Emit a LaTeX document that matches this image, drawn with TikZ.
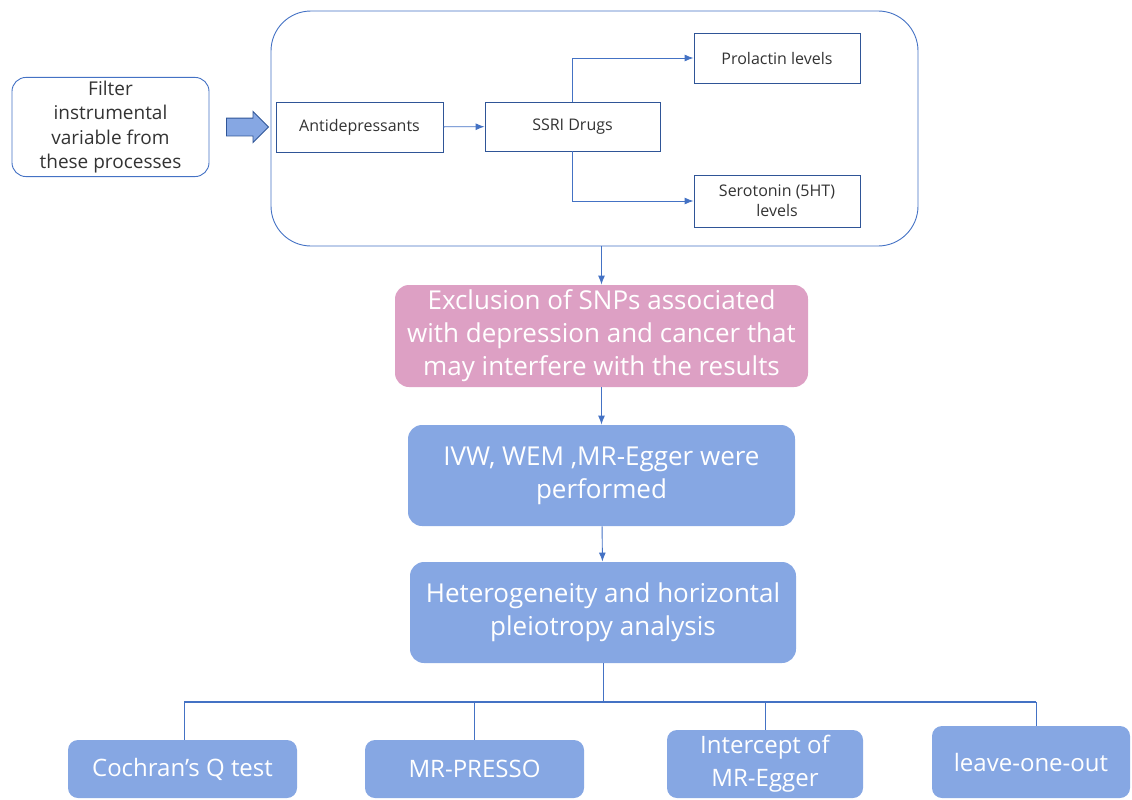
\documentclass[tikz,border=0pt]{standalone}
\usepackage{fontspec}
\setmainfont{Open Sans}
\usepackage{tikz}
\usetikzlibrary{shapes.arrows,arrows.meta,positioning,calc}

\definecolor{lineblue}{RGB}{68,114,196}
\definecolor{edgeblue}{RGB}{47,85,151}
\definecolor{fillblue}{RGB}{134,167,227}
\definecolor{fillpink}{RGB}{221,160,196}
\definecolor{textgray}{RGB}{51,51,51}

\begin{document}
\begin{tikzpicture}[x=1pt, y=-1pt, >={Latex[length=9pt,width=7pt]}, line width=0.9pt,
    smallbox/.style={draw=edgeblue, rectangle, inner sep=2pt, align=center, text=textgray, font=\fontsize{16}{20}\selectfont},
    bigbox/.style={rectangle, rounded corners=14pt, align=center, text=white, font=\fontsize{26}{33}\selectfont},
    testbox/.style={rectangle, rounded corners=10pt, fill=fillblue, align=center, text=white, font=\fontsize{24}{33}\selectfont},
    link/.style={->, draw=lineblue}]
    \useasboundingbox (0,0) rectangle (1132,800);
    % Instrument source
    \node[draw=lineblue, rounded corners=14pt, minimum width=197pt, minimum height=98pt, align=center, text=textgray, font=\fontsize{19}{24.5}\selectfont] (filter) at (110.5,127) {Filter\\instrumental\\variable from\\these processes};
    \node[single arrow, draw=edgeblue, fill=fillblue, minimum height=42pt, inner xsep=0pt, inner ysep=8.5pt, single arrow head extend=6.5pt] (bigarrow) at (243,127) {};
    % Drug processes
    \node[draw=lineblue, rounded corners=40pt, minimum width=647pt, minimum height=235pt] (frame) at (594.5,128.5) {};
    \node[smallbox, minimum width=167pt, minimum height=50pt] (antidep) at (359.5,127) {Antidepressants};
    \node[smallbox, minimum width=175pt, minimum height=49pt] (ssri) at (572.5,126.5) {SSRI Drugs};
    \node[smallbox, minimum width=166pt, minimum height=50pt] (prolactin) at (777,58) {Prolactin levels};
    \node[smallbox, minimum width=166pt, minimum height=52pt] (serotonin) at (777,201) {Serotonin (5HT)\\levels};
    % Analysis steps
    \node[bigbox, fill=fillpink, minimum width=413pt, minimum height=102pt] (exclusion) at (601.5,336) {Exclusion of SNPs associated\\with depression and cancer that\\may interfere with the results};
    \node[bigbox, fill=fillblue, minimum width=387pt, minimum height=101pt] (ivw) at (601.5,475.5) {IVW, WEM ,MR-Egger were\\performed};
    \node[bigbox, fill=fillblue, minimum width=386pt, minimum height=101pt] (hetero) at (603,612.5) {Heterogeneity and horizontal\\pleiotropy analysis};
    % Tests
    \node[testbox, minimum width=229pt, minimum height=58pt] (cochran) at (182.5,769) {Cochran’s Q test};
    \node[testbox, minimum width=219pt, minimum height=58pt] (presso) at (474.5,769) {MR-PRESSO};
    \node[testbox, minimum width=196pt, minimum height=68pt] (intercept) at (765,764) {Intercept of\\MR-Egger};
    \node[testbox, minimum width=198pt, minimum height=72pt] (loo) at (1031,762) {leave-one-out};
    % Arrows
    \draw[link] (antidep) -- (ssri);
    \draw[link] (ssri.north) |- (prolactin.west);
    \draw[link] (ssri.south) |- (serotonin.west);
    \draw[link] (frame.south -| exclusion) -- (exclusion);
    \draw[link] (exclusion) -- (ivw);
    \draw[link] (ivw) -- (hetero);
    % Branches
    \coordinate (hub) at (603,702);
    \coordinate (busl) at (184,702);
    \coordinate (busr) at (1036,702);
    \draw[lineblue] (hetero) -- (hub);
    \draw[lineblue, line width=1.6pt] (busl) -- (busr);
    \draw[lineblue] (busl) -- (busl |- cochran.north);
    \draw[lineblue] (presso |- hub) -- (presso);
    \draw[lineblue] (intercept |- hub) -- (intercept);
    \draw[lineblue] (busr) -- (busr |- loo.north);
\end{tikzpicture}
\end{document}
